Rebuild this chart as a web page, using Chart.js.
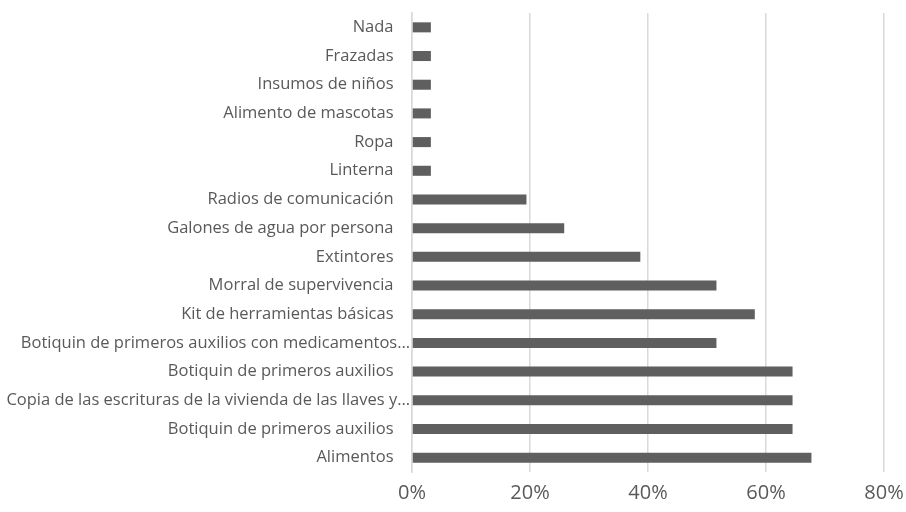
<!DOCTYPE html>
<html>
<head>
<meta charset="utf-8">
<script src="https://cdn.jsdelivr.net/npm/chart.js@4.4.0/dist/chart.umd.min.js"></script>
<style>
    html, body { margin: 0; padding: 0; background: #ffffff; }
    #wrap { width: 906px; height: 512px; position: relative; }
</style>
</head>
<body>
<div id="wrap"><canvas id="bar-chart"></canvas></div>
<script>
    // Categories, top to bottom as shown
    var categories = [
        "Nada",
        "Frazadas",
        "Insumos de niños",
        "Alimento de mascotas",
        "Ropa",
        "Linterna",
        "Radios de comunicación",
        "Galones de agua por persona",
        "Extintores",
        "Morral de supervivencia",
        "Kit de herramientas básicas",
        "Botiquin de primeros auxilios con medicamentos…",
        "Botiquin de primeros auxilios",
        "Copia de las escrituras de la vivienda de las llaves y…",
        "Botiquin de primeros auxilios",
        "Alimentos"
    ];

    // Share of respondents (%)
    var values = [3.2, 3.2, 3.2, 3.2, 3.2, 3.2, 19.4, 25.8, 38.7, 51.6, 58.1, 51.6, 64.5, 64.5, 64.5, 67.7];

    // X axis ticks
    var xMin = 0;
    var xMax = 80;
    var xStep = 20;

    var textColor = "#595959";
    var barColor = "#5f5f5f";
    var gridColor = "#d9d9d9";

    var ctx = document.getElementById("bar-chart").getContext("2d");
    var myChart = new Chart(ctx, {
        type: "bar",
        data: {
            labels: categories,
            datasets: [{
                data: values,
                backgroundColor: barColor,
                borderWidth: 0,
                barPercentage: 0.7,
                categoryPercentage: 0.5
            }]
        },
        options: {
            indexAxis: "y",
            responsive: true,
            maintainAspectRatio: false,
            animation: false,
            layout: {
                padding: { top: 13, right: 0, bottom: 0, left: 0 }
            },
            plugins: {
                legend: { display: false },
                tooltip: { enabled: false }
            },
            scales: {
                x: {
                    min: xMin,
                    max: xMax,
                    ticks: {
                        stepSize: xStep,
                        color: textColor,
                        padding: 9,
                        font: { family: "Open Sans", size: 20 },
                        callback: function (v) { return v + "%"; }
                    },
                    grid: {
                        color: gridColor,
                        lineWidth: 1.5,
                        drawTicks: false
                    },
                    border: { display: false },
                    afterFit: function (scale) {
                        scale.height = 40;
                        scale.paddingLeft = 0;
                        scale.paddingRight = 22;
                    }
                },
                y: {
                    ticks: {
                        color: textColor,
                        padding: 2,
                        autoSkip: false,
                        font: { family: "Open Sans", size: 16.5 },
                        // truncated labels run up to the axis, the others stop short
                        callback: function (v) {
                            var s = this.getLabelForValue(v);
                            return s.slice(-1) === "…" ? s : s + "\u2003";
                        }
                    },
                    grid: { display: false, drawTicks: false },
                    border: { display: true, color: gridColor, width: 1.5 },
                    afterFit: function (scale) { scale.width = 412; }
                }
            }
        }
    });
</script>
</body>
</html>
